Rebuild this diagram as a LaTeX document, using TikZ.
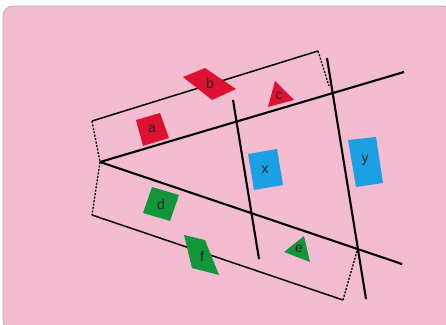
\documentclass[tikz,border=0pt]{standalone}
\usepackage{fontspec}
\setmainfont{Liberation Sans}
\begin{document}
\begin{tikzpicture}[x=1pt,y=-1pt,
  ray/.style={line width=2.1pt,black},
  edge/.style={line width=1.5pt,black},
  dashedge/.style={line width=1.3pt,black,dash pattern=on 2pt off 1.5pt},
  redfill/.style={fill=shred,draw=none},
  greenfill/.style={fill=shgreen,draw=none},
  bluefill/.style={fill=shblue,draw=none},
  lbl/.style={font=\fontsize{14}{14}\selectfont,inner sep=0pt,text=black!85}]
\definecolor{bgpink}{RGB}{243,188,208}
\definecolor{shred}{RGB}{222,18,48}
\definecolor{shgreen}{RGB}{18,150,58}
\definecolor{shblue}{RGB}{28,160,228}
\useasboundingbox (0,0) rectangle (446,324);
\fill[white] (0,0) rectangle (446,324);
\begin{scope}
\clip (0,0) rectangle (446,324);
\draw[fill=bgpink,draw=black!30,line width=0.8pt,rounded corners=10pt] (3,6) rectangle (452,330);
\end{scope}
% coordinates
\coordinate (V) at (100,162);
\coordinate (U) at (404,72);
\coordinate (L) at (402,264);
\coordinate (T1a) at (233,100);
\coordinate (T1b) at (259,259);
\coordinate (T2a) at (327,58);
\coordinate (T2b) at (366,299);
\coordinate (P1) at (92,121);
\coordinate (P2) at (318,51);
\coordinate (P3) at (329,86);
\coordinate (Q1) at (92,215);
\coordinate (Q2) at (343,300);
\coordinate (Q3) at (357,251);
% box edges
\draw[edge] (P1) -- (P2);
\draw[edge] (Q1) -- (Q2);
\draw[dashedge] (P1) -- (V);
\draw[dashedge] (P2) -- (P3);
\draw[dashedge] (V) -- (Q1);
\draw[dashedge] (Q2) -- (Q3);
% rays and transversals
\draw[ray] (V) -- (U);
\draw[ray] (V) -- (L);
\draw[ray] (T1a) -- (T1b);
\draw[ray] (T2a) -- (T2b);
% red shapes
\fill[redfill] (136,120) -- (160,113) -- (169,138) -- (143,146) -- cycle;
\node[lbl] (a) at (152,129) {a};
\fill[redfill] (183,77) -- (205,68) -- (236,89) -- (212,100) -- cycle;
\node[lbl] (b) at (210,83) {b};
\fill[redfill] (275,81) -- (294,100) -- (268,107) -- cycle;
\node[lbl] (c) at (279,96) {c};
% blue shapes
\fill[bluefill] (248,154) -- (277,149) -- (283,185) -- (254,190) -- cycle;
\node[lbl] (x) at (265,170) {x};
\fill[bluefill] (348,140) -- (376,137) -- (383,183) -- (356,187) -- cycle;
\node[lbl] (y) at (365,160) {y};
% green shapes
\fill[greenfill] (152,187) -- (179,195) -- (170,221) -- (143,213) -- cycle;
\node[lbl] (d) at (161,204) {d};
\fill[greenfill] (304,236) -- (310,262) -- (284,252) -- cycle;
\node[lbl] (e) at (299,249) {e};
\fill[greenfill] (184,235) -- (205,240) -- (219,275) -- (192,268) -- cycle;
\node[lbl] (f) at (202,256) {f};
\end{tikzpicture}
\end{document}
